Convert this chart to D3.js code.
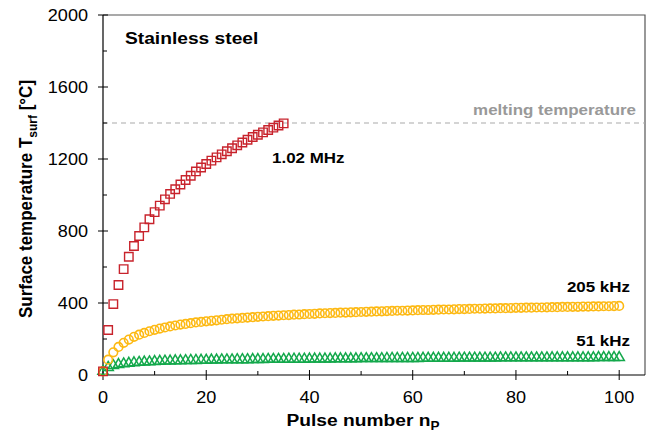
<!DOCTYPE html>
<html>
<head>
<meta charset="utf-8">
<script src="https://cdn.jsdelivr.net/npm/d3@7/dist/d3.min.js"></script>
<style>
  html, body { margin: 0; padding: 0; background: #fff; }
  svg { display: block; font-family: "Liberation Sans", Arial, sans-serif; }
</style>
</head>
<body>
<svg id="chart" width="648" height="436"></svg>
<script>
// Surface temperature vs. pulse number; array index = pulse number n_P
const temp1020kHz = [20, 250, 394, 500, 588, 657, 717, 772, 820, 865, 905, 941, 976, 1006, 1032,
  1058, 1083, 1107, 1131, 1153, 1172, 1191, 1209, 1226, 1243, 1260, 1276, 1292, 1307, 1322,
  1335, 1348, 1361, 1374, 1386, 1398];

const temp205kHz = [20, 85, 126, 156, 179, 197, 212, 224, 234, 243, 251, 258, 264, 270, 275,
  280, 284, 288, 292, 295, 298, 301, 304, 307, 310, 313, 315, 317, 319, 321,
  323, 325, 327, 329, 330, 332, 333, 335, 336, 338, 339, 340, 342, 343, 344,
  345, 346, 347, 348, 349, 350, 351, 352, 353, 354, 355, 356, 357, 357, 358,
  359, 360, 361, 361, 362, 363, 364, 364, 365, 366, 366, 367, 368, 368, 369,
  370, 370, 371, 371, 372, 373, 373, 374, 374, 375, 375, 376, 377, 377, 378,
  378, 379, 379, 380, 380, 381, 381, 382, 382, 383, 384];

const temp51kHz = [20, 42, 52, 58, 62, 65, 68, 70, 72, 73, 75, 76, 77, 78, 79,
  79, 80, 81, 81, 82, 82, 83, 83, 84, 84, 84, 85, 85, 85, 86,
  86, 86, 87, 87, 87, 87, 88, 88, 88, 88, 89, 89, 89, 89, 89,
  90, 90, 90, 90, 90, 91, 91, 91, 91, 91, 92, 92, 92, 92, 92,
  92, 92, 93, 93, 93, 93, 93, 93, 93, 94, 94, 94, 94, 94, 94,
  94, 94, 95, 95, 95, 95, 95, 95, 95, 95, 95, 95, 96, 96, 96,
  96, 96, 96, 96, 96, 96, 97, 97, 97, 97, 97];

const meltingTemp = 1400;
const xTicks = [0, 20, 40, 60, 80, 100];
const yTicks = [0, 400, 800, 1200, 1600, 2000];
const seriesLabels = ["1.02 MHz", "205 kHz", "51 kHz"];

const svg = d3.select("#chart");
const m = { left: 103, right: 645, top: 15, bottom: 375 };
const WIDE = 1.13; // horizontal stretch of the lettering

const x = d3.scaleLinear().domain([0, 105]).range([m.left, m.right]);
const y = d3.scaleLinear().domain([0, 2000]).range([m.bottom, m.top]);

const red = "#c8232c", yellow = "#fdb913", green = "#13a84b";

// horizontally widened text anchored at (px, py)
function label(parent, px, py, size, anchor, txt, opts = {}) {
  const t = parent.append("text")
    .attr("transform", `translate(${px},${py}) scale(${WIDE},1)`)
    .attr("text-anchor", anchor).attr("font-size", size)
    .attr("font-weight", opts.bold ? "bold" : "normal")
    .attr("fill", opts.fill || "#000");
  if (txt !== null) t.text(txt);
  return t;
}

// frame (top and right edges)
svg.append("path")
  .attr("d", `M${m.left},${m.top}H${m.right}V${m.bottom}`)
  .attr("fill", "none").attr("stroke", "#555").attr("stroke-width", 1.2);

// melting temperature reference line
svg.append("line")
  .attr("x1", m.left).attr("x2", m.right)
  .attr("y1", y(meltingTemp)).attr("y2", y(meltingTemp))
  .attr("stroke", "#aaa").attr("stroke-width", 1.2).attr("stroke-dasharray", "5,4");

// axes
const axisColor = "#000";
const gx = svg.append("g").attr("transform", `translate(0,${m.bottom})`);
gx.append("line").attr("x1", m.left).attr("x2", m.right).attr("stroke", axisColor).attr("stroke-width", 1.2);
gx.selectAll(".minor").data(d3.range(10, 105, 20)).join("line")
  .attr("x1", d => x(d)).attr("x2", d => x(d)).attr("y1", 0).attr("y2", -4)
  .attr("stroke", axisColor);
gx.selectAll(".major").data(xTicks).join("g").each(function(d) {
  const g = d3.select(this);
  g.append("line").attr("x1", x(d)).attr("x2", x(d)).attr("y1", -5).attr("y2", 5).attr("stroke", axisColor);
  label(g, x(d), 28, 16, "middle", d);
});

const gy = svg.append("g");
gy.append("line").attr("x1", m.left).attr("x2", m.left).attr("y1", m.top).attr("y2", m.bottom).attr("stroke", axisColor).attr("stroke-width", 1.2);
gy.selectAll(".minor").data(d3.range(200, 2000, 400)).join("line")
  .attr("x1", m.left).attr("x2", m.left + 4).attr("y1", d => y(d)).attr("y2", d => y(d))
  .attr("stroke", axisColor);
gy.selectAll(".major").data(yTicks).join("g").each(function(d) {
  const g = d3.select(this);
  g.append("line").attr("x1", m.left - 5).attr("x2", m.left + 5).attr("y1", y(d)).attr("y2", y(d)).attr("stroke", axisColor);
  label(g, m.left - 15, y(d) + 6, 16, "end", d);
});

// axis titles
const xt = label(svg, 363, 426, 17, "middle", null, { bold: true });
xt.append("tspan").text("Pulse number n");
xt.append("tspan").attr("font-size", 12).attr("dy", 4).text("P");

const yt = svg.append("text").attr("transform", `translate(32,199) rotate(-90) scale(1,${WIDE})`)
  .attr("text-anchor", "middle").attr("font-size", 17).attr("font-weight", "bold");
yt.append("tspan").text("Surface temperature T");
yt.append("tspan").attr("font-size", 12).attr("dy", 4).text("surf");
yt.append("tspan").attr("dy", -4).text(" [°C]");

// series markers
const plot = svg.append("g");
const tri = d3.symbol().type(d3.symbolTriangle).size(46);
plot.append("g").selectAll("path").data(temp51kHz).join("path")
  .attr("d", tri)
  .attr("transform", (d, i) => `translate(${x(i)},${y(d)})`)
  .attr("fill", "none").attr("stroke", green).attr("stroke-width", 1.5);

plot.append("g").selectAll("circle").data(temp205kHz).join("circle")
  .attr("cx", (d, i) => x(i)).attr("cy", d => y(d)).attr("r", 4.3)
  .attr("fill", "none").attr("stroke", yellow).attr("stroke-width", 1.6);

const sq = d3.symbol().type(d3.symbolSquare).size(72);
plot.append("g").selectAll("path").data(temp1020kHz).join("path")
  .attr("d", sq)
  .attr("transform", (d, i) => `translate(${x(i)},${y(d)})`)
  .attr("fill", "none").attr("stroke", red).attr("stroke-width", 1.4);

// annotations
label(svg, 125, 44, 17, "start", "Stainless steel", { bold: true });
label(svg, 636, 115, 15, "end", "melting temperature", { bold: true, fill: "#999" });
label(svg, 272, 163, 15, "start", seriesLabels[0], { bold: true });
label(svg, 630, 292, 15, "end", seriesLabels[1], { bold: true });
label(svg, 630, 346, 15, "end", seriesLabels[2], { bold: true });
</script>
</body>
</html>
